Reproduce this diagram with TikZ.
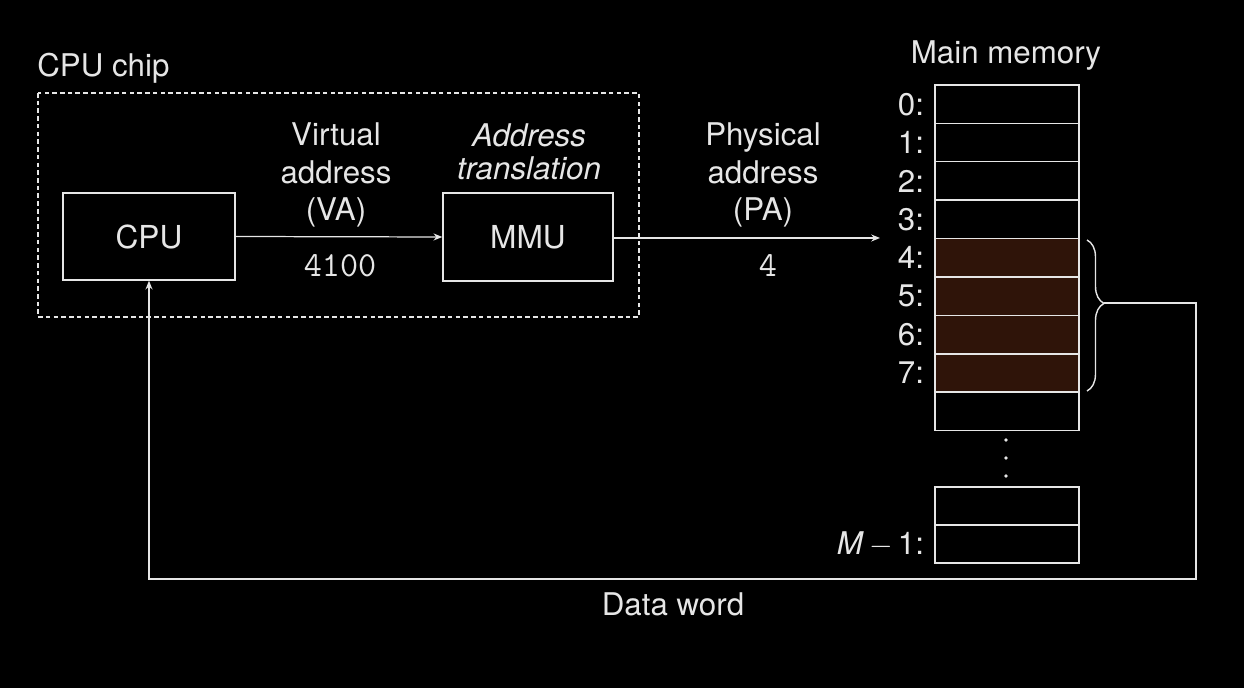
\documentclass[tikz,border=0pt]{standalone}
\usepackage{fontspec}
\setmainfont{TeX Gyre Heros}
\usetikzlibrary{arrows.meta,decorations.pathreplacing}
\definecolor{fg}{HTML}{E6E6E6}
\definecolor{hot}{HTML}{2F1409}
\tikzset{
  every node/.style={text=fg},
  lbl/.style={font=\fontsize{17.8}{21.5}\selectfont, align=center, inner sep=0pt},
  box/.style={draw=fg, line width=0.8pt, inner sep=0pt, font=\fontsize{18}{20}\selectfont},
  cell/.style={draw=fg, line width=0.8pt, inner sep=0pt, minimum width=2.88cm, minimum height=0.768cm},
  hotcell/.style={cell, fill=hot},
  rowlbl/.style={font=\fontsize{17.8}{20}\selectfont, anchor=east, inner sep=0pt},
  conn/.style={draw=fg, line width=0.7pt, -{Stealth[length=5pt,width=4pt]}},
  wire/.style={draw=fg, line width=0.8pt},
}
\begin{document}
\begin{tikzpicture}[x=0.02cm,y=-0.02cm]
\fill[black] (0,0) rectangle (1244,688);
\useasboundingbox (0,0) rectangle (1244,688);

% CPU chip
\node[lbl, anchor=west] (chiplbl) at (37,68) {CPU chip};
\draw[fg, line width=0.8pt, dash pattern=on 2.6pt off 1.8pt] (38,93) rectangle (639,317);

\node[box, minimum width=3.44cm, minimum height=1.74cm] (cpu) at (149,236.5) {CPU};
\node[box, minimum width=3.40cm, minimum height=1.76cm] (mmu) at (528,237) {MMU};

\node[lbl] (va) at (336,175) {Virtual\\address\\(VA)};
\node[lbl, font=\fontsize{20}{20}\ttfamily] (vanum) at (340,266) {4100};
\node[lbl, font=\fontsize{17.8}{19}\selectfont\itshape] (at) at (529,152) {Address\\translation};

\node[lbl] (pa) at (763,175) {Physical\\address\\(PA)};
\node[lbl, font=\fontsize{20}{20}\ttfamily] (panum) at (768,266) {4};

% memory
\node[lbl] (mmlbl) at (1006,56) {Main memory};
\foreach \i/\st in {0/cell,1/cell,2/cell,3/cell,4/hotcell,5/hotcell,6/hotcell,7/hotcell,8/cell}{
  \node[\st] (m\i) at (1007,{104.2+38.4*\i}) {};
}
\foreach \i in {0,...,7}{
  \node[rowlbl] (l\i) at ([xshift=-0.2cm]m\i.west) {\i:};
}
\node[cell] (ma) at (1007,506) {};
\node[cell] (mb) at (1007,544) {};
\node[rowlbl] (lm) at ([xshift=-0.2cm]mb.west) {\textit{M}\,$-$\,1:};
\foreach \y/\n in {440/d1,458/d2,476/d3}{
  \node[circle, fill=fg, inner sep=0pt, minimum size=2.2pt] (\n) at (1006,\y) {};
}

% brace
\draw[wire, decorate, decoration={brace, amplitude=0.34cm, aspect=0.42}] (1087,240) -- (1087,391);
\coordinate (bt) at (1104,303);
\coordinate (r1) at (1196,303);
\coordinate (r2) at (1196,579);

% connectors
\draw[conn] (cpu.east) -- (mmu.west);
\coordinate (pae) at (880,238);
\draw[conn] (mmu.east |- pae) -- (pae);
\draw[conn] (bt) -- (r1) -- (r2) -| (cpu.south);

\node[lbl] (dw) at (673,604) {Data word};
\end{tikzpicture}
\end{document}
